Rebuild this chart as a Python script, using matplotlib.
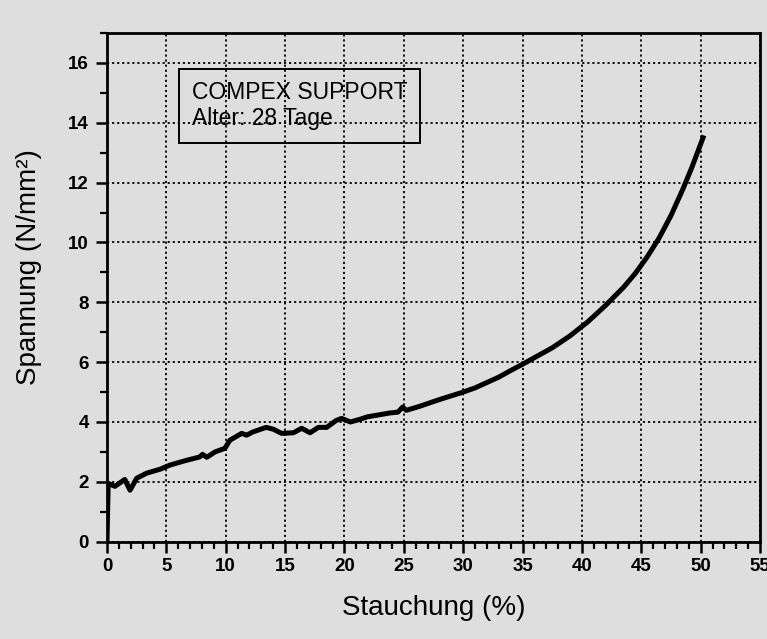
import matplotlib
matplotlib.use('Agg')
import matplotlib.pyplot as plt
from matplotlib.ticker import MultipleLocator

plt.rcParams['font.family'] = ['Liberation Sans', 'DejaVu Sans']

# Stauchung (%) / Spannung (N/mm²)
stauchung = [0.0, 0.1, 0.67, 1.5, 1.94, 2.5, 3.34, 4.46, 5.3, 6.7, 7.8, 8.05, 8.4,
             9.1, 9.93, 10.35, 11.34, 11.76, 12.3, 13.4, 14.0, 14.7, 15.7, 16.4,
             17.1, 17.8, 18.5, 19.3, 19.75, 20.5, 21.3, 21.9, 23.8, 24.5, 24.9,
             25.2, 26.3, 28.0, 30.0, 31.0, 32.0, 33.0, 34.0, 35.0, 36.0, 37.5,
             39.0, 40.5, 42.0, 43.5, 44.5, 45.5, 46.5, 47.5, 48.5, 49.3, 50.2]
spannung = [0.0, 1.95, 1.85, 2.08, 1.72, 2.12, 2.29, 2.42, 2.56, 2.72, 2.83, 2.92, 2.82,
            3.0, 3.12, 3.39, 3.62, 3.56, 3.67, 3.82, 3.76, 3.62, 3.64, 3.79,
            3.64, 3.82, 3.82, 4.05, 4.12, 4.0, 4.09, 4.17, 4.3, 4.33, 4.5,
            4.39, 4.52, 4.75, 5.0, 5.14, 5.32, 5.5, 5.72, 5.93, 6.15, 6.48,
            6.88, 7.35, 7.9, 8.5, 8.97, 9.52, 10.15, 10.9, 11.78, 12.55, 13.5]

label_text = 'COMPEX SUPPORT\nAlter: 28 Tage'

bg = '#dedede'
fig = plt.figure(figsize=(7.67, 6.39), dpi=100, facecolor=bg)
ax = fig.add_axes([0.1395, 0.1523, 0.8514, 0.796])
ax.set_facecolor(bg)

ax.plot(stauchung, spannung, color='black', lw=3.6, solid_joinstyle='round')

ax.set_xlim(0, 55)
ax.set_ylim(0, 17)
ax.xaxis.set_major_locator(MultipleLocator(5))
ax.xaxis.set_minor_locator(MultipleLocator(1))
ax.yaxis.set_major_locator(MultipleLocator(2))
ax.yaxis.set_minor_locator(MultipleLocator(1))

ax.grid(True, which='major', color='black', lw=1.3, linestyle=(0, (1.2, 1.6)))
ax.set_axisbelow(True)

for s in ax.spines.values():
    s.set_linewidth(2.0)
ax.tick_params(which='major', direction='out', length=8, width=1.8,
               labelsize=13.5, pad=4)
ax.tick_params(which='minor', direction='out', length=5, width=1.6)
ax.tick_params(axis='y', which='major', pad=5)
for lab in ax.get_xticklabels() + ax.get_yticklabels():
    lab.set_fontweight('bold')

ax.set_xlabel('Stauchung (%)', fontsize=20, labelpad=14)
ax.set_ylabel('Spannung (N/mm²)', fontsize=20)
ax.yaxis.set_label_coords(-0.0995, 0.54)

ax.text(0.13, 0.905, label_text, transform=ax.transAxes, fontsize=16.5,
        va='top', ha='left', linespacing=1.15,
        bbox=dict(boxstyle='square,pad=0.55', facecolor='none',
                  edgecolor='black', lw=1.4))

fig.savefig('out.png', dpi=100, facecolor=bg)
